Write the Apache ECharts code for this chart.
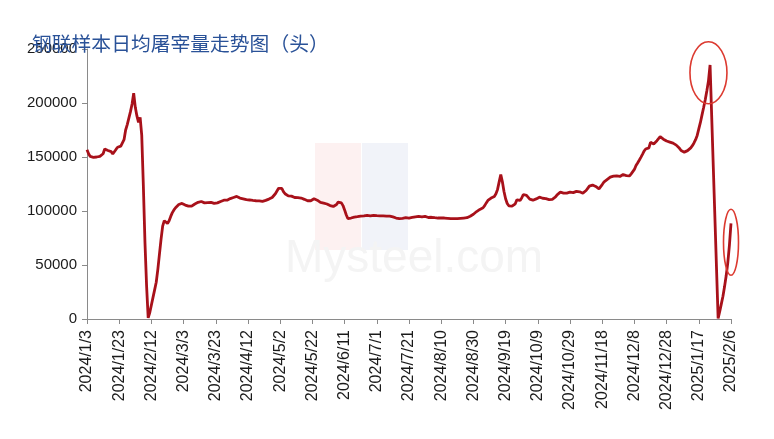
<!DOCTYPE html>
<html><head><meta charset="utf-8">
<script src="https://cdn.jsdelivr.net/npm/echarts@6/dist/echarts.min.js"></script>
<style>html,body{margin:0;padding:0;background:#fff}#c{width:774px;height:439px}</style>
</head><body><div id="c"></div>
<script>
// daily values, 2024/1/3 .. 2025/2/6
const jan24 = [156800,153000,150500,149500,149700,149000,150000,150500,150600,150000,153000,157400,157000,156000,157400,155000,152800,154500,157000,159000,158500,160000,159000,166000,175000,180000,186000,192000,199000];
const feb24 = [209000,196000,188000,182000,186600,170000,123600,71000,31000,1000,6000,13000,20000,27000,34000,46000,60000,74000,86000,91000,89500,88500,91000,95000,98500,101000,103000,103600,106000];
const mar24 = [107600,107000,106500,105500,105000,104500,104800,104500,105500,106500,107500,108000,108500,108800,108000,107500,107000,107800,108200,108000,107500,107000,106700,107500,108000,108800,109500,110000,110400,110000,111000];
const apr24 = [111500,112000,112500,113000,113500,113000,112000,111500,111300,111000,110500,110800,110200,109800,109800,109500,109500,109000,109300,108900,108900,109200,109800,110500,111000,111300,112500,114000,116000,118500];
const may24 = [121000,122700,121000,118000,116000,114500,114000,113500,113800,113000,112500,113000,112300,112300,112000,111500,110800,110000,109500,109100,109500,110500,111300,110800,110000,109000,108000,107500,107300,107000,106500];
const jun24 = [105800,105000,104500,104200,104200,106000,108200,108500,107500,105000,101000,96500,93000,92900,93500,94000,94400,94200,94800,95000,95300,95000,95500,95900,96000,95900,95500,95800,96000,95900];
const jul24 = [95700,95900,95500,95200,95500,95800,95300,95000,95200,95000,94500,94200,93500,93000,92900,92900,93200,93500,93800,93800,93500,93800,94000,94200,94500,94800,95000,95000,94500,95200,95000];
const aug24 = [94500,94000,93800,94200,93800,93800,94000,93500,93800,93500,93200,93500,93800,93200,93000,92900,92700,92900,92800,92900,93000,93200,93000,93500,93000,93800,94500,95200,95900,97000,98500];
const sep24 = [99500,100600,101500,102500,103000,105000,107500,109800,111000,112000,112800,113500,116000,120000,127000,133800,127000,118000,111300,107000,104800,104200,104500,105500,106700,110400,109500,109800,112000,115300];
const oct24 = [115000,114400,113000,111000,109800,110000,110500,111200,112000,112800,112300,111800,111300,111500,111000,110600,110400,110800,111500,113000,115000,116500,117400,117000,116500,116000,116500,117000,117400,117400,117000];
const nov24 = [117800,118200,118400,117800,117000,116500,117500,119000,121000,123000,124200,124000,123300,122700,121500,120500,122000,124500,126700,128000,129000,130000,131300,131800,132300,132800,132500,131300,132000,133000];
const dec24 = [133800,133500,132800,131900,132500,134400,136000,138500,142100,144500,147000,149700,152500,155500,157400,155900,158500,163600,163000,162100,163500,165100,166500,168800,168000,166500,165100,164800,164300,163800,163600];
const jan25 = [162800,162000,161000,159600,158000,156000,154300,154500,155000,155900,157000,158500,160500,163000,166000,170000,176000,182000,189000,195800,203000,211300,220500,235200,188000,141000,94000,47000,600,7000,14000];
const feb25 = [21000,30000,40000,52000,68000,88500];

const values = [].concat(jan24, feb24, mar24, apr24, may24, jun24, jul24, aug24, sep24, oct24, nov24, dec24, jan25, feb25);

const categories = [];
for (let i = 0; i < values.length; i++) {
  const d = new Date(Date.UTC(2024, 0, 3 + i));
  categories.push(d.getUTCFullYear() + '/' + (d.getUTCMonth() + 1) + '/' + d.getUTCDate());
}

const titleText = '钢联样本日均屠宰量走势图（头）';
const yMin = 0, yMax = 250000, yStep = 50000;
const labelEvery = 20;

// annotation ellipses: [category index, value]
const marks = [
  { at: [386, 228000], rx: 18.5, ry: 31 },
  { at: [400, 71000], rx: 7.5, ry: 33 }
];

const chart = echarts.init(document.getElementById('c'), null, { renderer: 'canvas' });
chart.setOption({
  animation: false,
  backgroundColor: '#ffffff',
  title: {
    text: titleText, left: 27, top: 29,
    textStyle: { fontFamily: 'Noto Sans CJK SC', fontSize: 19.8, fontWeight: 'normal', color: '#2a5298' }
  },
  grid: { left: 87, right: 43, top: 49, bottom: 120, containLabel: false },
  xAxis: {
    type: 'category', data: categories, boundaryGap: false,
    axisLine: { lineStyle: { color: '#8a8a8a', width: 1 } },
    axisTick: { show: true, interval: labelEvery - 1, length: 5, lineStyle: { color: '#8a8a8a' } },
    axisLabel: { interval: labelEvery - 1, rotate: 90, margin: 11, fontSize: 16, color: '#1a1a1a', fontFamily: 'Liberation Sans' },
    splitLine: { show: false }
  },
  yAxis: {
    type: 'value', min: yMin, max: yMax, interval: yStep,
    axisLine: { show: true, lineStyle: { color: '#8a8a8a', width: 1 } },
    axisTick: { show: true, length: 5, lineStyle: { color: '#8a8a8a' } },
    axisLabel: { margin: 10, fontSize: 15, color: '#1a1a1a', fontFamily: 'Liberation Sans', formatter: v => String(v) },
    splitLine: { show: false }
  },
  series: [{
    type: 'line', data: values, showSymbol: false, symbol: 'none',
    lineStyle: { color: '#a8111a', width: 2.8 }, z: 5
  }]
});

const g = [
  { type: 'rect', z: -10, silent: true, shape: { x: 315, y: 143, width: 46, height: 107 }, style: { fill: '#fdf1f1' } },
  { type: 'rect', z: -10, silent: true, shape: { x: 362, y: 143, width: 46, height: 107 }, style: { fill: '#f1f3f9' } },
  { type: 'text', z: -10, silent: true, left: 285, top: 236, style: { text: 'Mysteel.com', fontSize: 46, fontFamily: 'Liberation Sans', fill: '#f4f4f4' } }
];
marks.forEach(m => {
  const p = chart.convertToPixel({ xAxisIndex: 0, yAxisIndex: 0 }, m.at);
  g.push({ type: 'ellipse', z: 100, silent: true, shape: { cx: p[0], cy: p[1], rx: m.rx, ry: m.ry }, style: { fill: 'none', stroke: '#dc3a30', lineWidth: 1.6 } });
});
chart.setOption({ graphic: g });
</script></body></html>
